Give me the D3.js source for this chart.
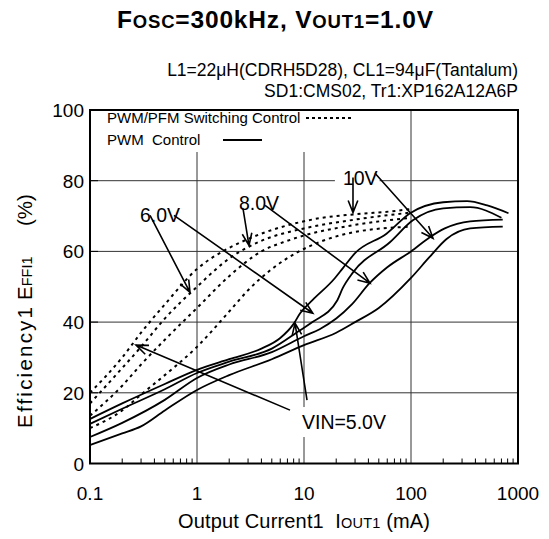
<!DOCTYPE html>
<html>
<head>
<meta charset="utf-8">
<script src="https://cdn.jsdelivr.net/npm/d3@7"></script>
<style>
  body { margin: 0; background: #fff; }
  svg  { display: block; font-family: "Liberation Sans", Arial, sans-serif; }
  text { white-space: pre; }
</style>
</head>
<body>
<svg id="chart"></svg>
<script>
// ---- data ----
const X_TICKS  = [0.1, 1, 10, 100, 1000];
const X_LABELS = ['0.1', '1', '10', '100', '1000'];
const Y_TICKS  = [0, 20, 40, 60, 80, 100];

// PWM control (solid), [Iout mA, efficiency %]
const pwm50 = [[0.1,12.6],[0.2,17],[0.5,22.5],[1,26.5],[2,29.5],[4,32.5],[6,35.5],[8,39.5],[9.2,42.5],[12,46.2],[19.4,52.4],[23,55.2],[30,59.5],[59,65],[98,70.8],[200,73.9],[334,74.2],[516,73],[815,70.8]];
const pwm60 = [[0.1,11.2],[0.2,15.5],[0.5,21],[1,25.6],[2,28.8],[5,32.5],[9.2,37.7],[12,40],[20.5,46.2],[23,49.6],[28.6,54],[63.5,62.6],[104,68.8],[200,72.2],[357,72.5],[700,69.5]];
const pwm80 = [[0.1,7.5],[0.2,11.5],[0.5,18],[1,24.2],[2,28],[5,31.5],[10,36],[14,38],[20,41],[28,45],[41,51],[60,55.5],[100,60],[150,64],[207,66.5],[357,68.5],[720,69]];
const pwm100 = [[0.1,5.2],[0.2,8.5],[0.3,10.5],[0.5,15],[1,20.8],[2,25],[5,29.5],[10,33.5],[20,37],[30,40],[50,44],[100,52.5],[150,58.5],[215,63.5],[357,66.5],[720,67]];

// PWM/PFM switching control (dotted)
const pfm50 = [[0.1,20],[0.2,30],[0.3,37],[0.5,45],[1,55],[2,61],[3,63.5],[6,66.8],[9,68.2],[14,69.4],[30,70.5],[74,71.5],[100,72]];
const pfm60 = [[0.1,17],[0.2,27],[0.3,33],[0.5,41],[1,50],[2,58],[4,63],[10,66.5],[30,69],[100,71]];
const pfm80 = [[0.1,13.5],[0.2,22],[0.3,28],[0.5,35],[1,44],[2,53],[4,60],[7,63],[10,64.5],[30,67.5],[100,69.5]];
const pfm100 = [[0.1,10],[0.2,15],[0.3,19.5],[0.5,25],[1,33],[2,43],[3,49],[5,55],[8.6,59.7],[15,63],[30,65.5],[100,67]];

const SOLID  = [pwm50, pwm60, pwm80, pwm100];
const DOTTED = [pfm50, pfm60, pfm80, pfm100];

// annotation arrows [fromI, fromEff, toI, toEff]
const ARROWS = [
  [0.364, 70.2, 0.86, 48.4],
  [0.609, 70.2, 12.1, 42.5],
  [2.69, 72.2, 3.06, 61.7],
  [4.33, 73.0, 41.4, 51.0],
  [28.7, 80.9, 28.7, 71.0],
  [46.1, 82.1, 160.7, 63.7],
  [7.40, 15.1, 0.269, 33.5],
  [10.67, 17.9, 8.24, 39.7]
];
const LABEL_TEXT = ['6.0V', '8.0V', '10V', 'VIN=5.0V'];
const LABEL_AT   = [[0.293, 68.2], [2.47, 71.6], [23.1, 78.8], [9.57, 9.75]];

// ---- layout ----
const SVG_W = 549, SVG_H = 539;
const PLOT = { left: 90, right: 518, top: 110, bottom: 463.5 };

const x = d3.scaleLog().domain([0.1, 1000]).range([PLOT.left, PLOT.right]);
const y = d3.scaleLinear().domain([0, 100]).range([PLOT.bottom, PLOT.top]);

const svg = d3.select('#chart').attr('width', SVG_W).attr('height', SVG_H);

// title
const title = svg.append('text')
  .attr('x', 275).attr('y', 28)
  .attr('text-anchor', 'middle')
  .attr('font-weight', 'bold').attr('font-size', 24.5)
  .attr('textLength', 316).attr('lengthAdjust', 'spacing');
title.append('tspan').text('F');
title.append('tspan').attr('font-size', 18.5).text('OSC');
title.append('tspan').text('=300kHz, V');
title.append('tspan').attr('font-size', 18.5).text('OUT1');
title.append('tspan').text('=1.0V');

// conditions
svg.append('text').attr('x', 518).attr('y', 76).attr('text-anchor', 'end')
  .attr('font-size', 17.5).text('L1=22\u03bcH(CDRH5D28), CL1=94\u03bcF(Tantalum)');
svg.append('text').attr('x', 518).attr('y', 97).attr('text-anchor', 'end')
  .attr('font-size', 17.5).text('SD1:CMS02, Tr1:XP162A12A6P');

// grid
const grid = svg.append('g').attr('stroke', '#333').attr('stroke-width', 1);
Y_TICKS.slice(1, -1).forEach(v => {
  grid.append('line').attr('x1', PLOT.left).attr('x2', PLOT.right)
    .attr('y1', y(v)).attr('y2', y(v));
});
X_TICKS.slice(1, -1).forEach(v => {
  grid.append('line').attr('x1', x(v)).attr('x2', x(v))
    .attr('y1', PLOT.top).attr('y2', PLOT.bottom);
});

// minor ticks on the bottom, inward
const minor = [];
for (let d = 0.1; d < 1000; d *= 10) for (let k = 2; k <= 9; k++) minor.push(d * k);
svg.append('g').selectAll('line').data(minor).join('line')
  .attr('x1', d => x(d)).attr('x2', d => x(d))
  .attr('y1', PLOT.bottom).attr('y2', PLOT.bottom - 5)
  .attr('stroke', '#000').attr('stroke-width', 1);

// left major ticks, inward
svg.append('g').selectAll('line').data(Y_TICKS).join('line')
  .attr('x1', PLOT.left).attr('x2', PLOT.left + 8)
  .attr('y1', d => y(d)).attr('y2', d => y(d))
  .attr('stroke', '#000').attr('stroke-width', 1);

// legend box hides the grid
svg.append('rect').attr('x', PLOT.left + 1).attr('y', PLOT.top + 1)
  .attr('width', 270).attr('height', 41).attr('fill', '#fff');

// frame
svg.append('rect')
  .attr('x', PLOT.left).attr('y', PLOT.top)
  .attr('width', PLOT.right - PLOT.left).attr('height', PLOT.bottom - PLOT.top)
  .attr('fill', 'none').attr('stroke', '#000').attr('stroke-width', 2);

// tick labels
svg.append('g').selectAll('text').data(Y_TICKS).join('text')
  .attr('x', 84).attr('y', d => y(d) + 7)
  .attr('text-anchor', 'end').attr('font-size', 19)
  .text(d => d);
svg.append('g').selectAll('text').data(X_TICKS).join('text')
  .attr('x', d => x(d)).attr('y', 500)
  .attr('text-anchor', 'middle').attr('font-size', 19)
  .text((d, i) => X_LABELS[i]);

// axis titles
const xt = svg.append('text').attr('x', 178).attr('y', 528).attr('font-size', 20)
  .attr('textLength', 252).attr('lengthAdjust', 'spacing');
xt.append('tspan').text('Output Current1  I');
xt.append('tspan').attr('font-size', 14.5).text('OUT1');
xt.append('tspan').text(' (mA)');

const yAxisTitle = svg.append('g').attr('transform', 'translate(32,0) rotate(-90)');
yAxisTitle.append('text').attr('x', -428).attr('y', 0).attr('font-size', 20.5)
  .attr('textLength', 121).attr('lengthAdjust', 'spacing')
  .text('Efficiency1');
const yt = yAxisTitle.append('text').attr('x', -300).attr('y', 0).attr('font-size', 20.5);
yt.append('tspan').text('E');
yt.append('tspan').attr('font-size', 14.5).text('FFI1');
yAxisTitle.append('text').attr('x', -226).attr('y', 0).attr('font-size', 20.5)
  .text('(%)');

// legend
svg.append('text').attr('x', 107).attr('y', 123).attr('font-size', 15)
  .text('PWM/PFM Switching Control');
svg.append('text').attr('x', 107).attr('y', 145).attr('font-size', 15)
  .text('PWM  Control');
svg.append('line').attr('x1', 306).attr('x2', 354).attr('y1', 118).attr('y2', 118)
  .attr('stroke', '#000').attr('stroke-width', 2).attr('stroke-dasharray', '3,3');
svg.append('line').attr('x1', 223).attr('x2', 262).attr('y1', 140).attr('y2', 140)
  .attr('stroke', '#000').attr('stroke-width', 2);

// curves
const line = d3.line().x(d => x(d[0])).y(d => y(d[1])).curve(d3.curveMonotoneX);
svg.append('g').selectAll('path').data(DOTTED).join('path')
  .attr('d', line).attr('fill', 'none')
  .attr('stroke', '#000').attr('stroke-width', 2).attr('stroke-dasharray', '3,4');
svg.append('g').selectAll('path').data(SOLID).join('path')
  .attr('d', line).attr('fill', 'none')
  .attr('stroke', '#000').attr('stroke-width', 1.8);

// label backgrounds, labels
const labels = svg.append('g');
LABEL_TEXT.forEach((t, i) => {
  const lx = x(LABEL_AT[i][0]), ly = y(LABEL_AT[i][1]);
  const txt = labels.append('text').attr('x', lx).attr('y', ly)
    .attr('font-size', 19.5).text(t);
  if (t === '10V' || t.startsWith('VIN')) {
    const bb = txt.node().getBBox();
    labels.insert('rect', 'text')
      .attr('x', bb.x - 8).attr('y', bb.y - 4)
      .attr('width', bb.width + 10).attr('height', bb.height + 8)
      .attr('fill', '#fff');
  }
});

// arrows
const arrows = svg.append('g').attr('stroke', '#000').attr('stroke-width', 1.6).attr('fill', 'none');
ARROWS.forEach(a => {
  const x1 = x(a[0]), y1 = y(a[1]), x2 = x(a[2]), y2 = y(a[3]);
  const ang = Math.atan2(y2 - y1, x2 - x1);
  const L = 13, spread = 0.38;
  const h1 = [x2 - L * Math.cos(ang - spread), y2 - L * Math.sin(ang - spread)];
  const h2 = [x2 - L * Math.cos(ang + spread), y2 - L * Math.sin(ang + spread)];
  arrows.append('path')
    .attr('d', `M ${x1} ${y1} L ${x2} ${y2} M ${h1[0]} ${h1[1]} L ${x2} ${y2} L ${h2[0]} ${h2[1]}`);
});
</script>
</body>
</html>
